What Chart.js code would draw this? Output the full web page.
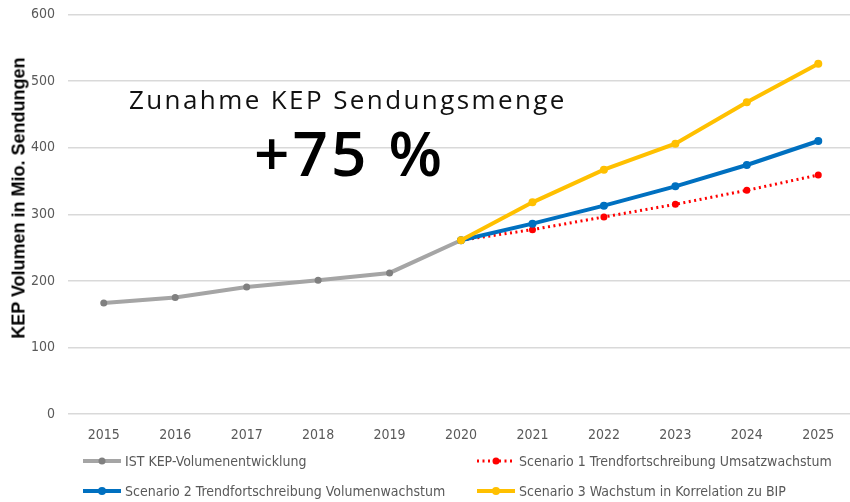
<!DOCTYPE html>
<html>
<head>
<meta charset="utf-8">
<script src="https://cdn.jsdelivr.net/npm/chart.js@4/dist/chart.umd.min.js"></script>
<style>
  body { margin: 0; background: #fff; }
  #wrap { position: relative; width: 850px; height: 502px; overflow: hidden; }
  #chart { position: absolute; left: 0; top: -7px; }
  .ytitle {
    position: absolute; left: 19px; top: 198px;
    transform: translate(-50%, -50%) rotate(-90deg);
    font: bold 18px "Liberation Sans", Arial, sans-serif; white-space: nowrap; color: #000;
  }
  .note1 {
    position: absolute; left: 129px; top: 81px;
    font: 400 26px "Open Sans", sans-serif; letter-spacing: 2.4px; color: #111; white-space: nowrap;
  }
  .note2 {
    position: absolute; left: 254px; top: 110px;
    font: 600 62px "Open Sans", sans-serif; letter-spacing: 3px; color: #000; white-space: nowrap;
  }
  .leg {
    position: absolute; display: flex; align-items: center;
    font: 14px "Liberation Sans Narrow", "DejaVu Sans Condensed", sans-serif; color: #595959; white-space: nowrap;
  }
  .leg svg { margin-right: 3px; }
</style>
</head>
<body>
<div id="wrap">
  <canvas id="chart" width="858" height="509"></canvas>
  <div class="ytitle">KEP Volumen in Mio. Sendungen</div>
  <div class="note1">Zunahme KEP Sendungsmenge</div>
  <div class="note2">+75 %</div>
  <div id="legend"></div>
</div>
<script>
const years = ['2015', '2016', '2017', '2018', '2019', '2020', '2021', '2022', '2023', '2024', '2025'];
const istValues = [167, 175, 191, 201, 212, 261, null, null, null, null, null];
const scen1Values = [null, null, null, null, null, 261, 277, 296, 315, 336, 359];
const scen2Values = [null, null, null, null, null, 261, 286, 313, 342, 374, 410];
const scen3Values = [null, null, null, null, null, 261, 318, 367, 406, 468, 526];
const seriesLabels = [
  'IST KEP-Volumenentwicklung',
  'Scenario 1 Trendfortschreibung Umsatzwachstum',
  'Scenario 2 Trendfortschreibung Volumenwachstum',
  'Scenario 3 Wachstum in Korrelation zu BIP'
];
const yMin = 0, yMax = 600, yStep = 100;

const tickFont = { family: '"Liberation Sans Narrow", "DejaVu Sans Condensed", sans-serif', size: 14 };

const datasets = [
  { label: seriesLabels[0], data: istValues, borderColor: '#a5a5a5', backgroundColor: '#7f7f7f',
    pointBackgroundColor: '#808080', pointBorderColor: '#808080', borderWidth: 4, pointRadius: 3.5, pointBorderWidth: 0, order: 3 },
  { label: seriesLabels[1], data: scen1Values, borderColor: '#ff0000', backgroundColor: '#ff0000',
    pointBackgroundColor: '#ff0000', pointBorderColor: '#ff0000', borderWidth: 3, borderDash: [2, 3.5],
    pointRadius: 3.5, pointBorderWidth: 0, order: 2 },
  { label: seriesLabels[2], data: scen2Values, borderColor: '#0070c0', backgroundColor: '#0070c0',
    pointBackgroundColor: '#0070c0', pointBorderColor: '#0070c0', borderWidth: 4, pointRadius: 4, pointBorderWidth: 0, order: 1 },
  { label: seriesLabels[3], data: scen3Values, borderColor: '#ffc000', backgroundColor: '#ffc000',
    pointBackgroundColor: '#ffc000', pointBorderColor: '#ffc000', borderWidth: 4, pointRadius: 4, pointBorderWidth: 0, order: 0 }
];

new Chart(document.getElementById('chart').getContext('2d'), {
  type: 'line',
  data: { labels: years, datasets: datasets },
  options: {
    responsive: false,
    animation: false,
    layout: { padding: { top: 1, left: 18, right: 1, bottom: 45 } },
    plugins: { legend: { display: false }, tooltip: { enabled: false } },
    scales: {
      x: {
        offset: true,
        grid: { display: false, drawTicks: false },
        border: { display: false },
        ticks: { color: '#595959', font: tickFont, padding: 13, maxRotation: 0 }
      },
      y: {
        min: yMin, max: yMax,
        grid: { color: '#d9d9d9', lineWidth: 1.5, drawTicks: false },
        border: { display: false },
        ticks: { stepSize: yStep, color: '#595959', font: tickFont, padding: 13 }
      }
    }
  }
});

// legend in two columns, built from the datasets
const legendPos = [[82, 461], [476, 461], [82, 491], [476, 491]];
const legend = document.getElementById('legend');
datasets.forEach((ds, i) => {
  const el = document.createElement('div');
  el.className = 'leg';
  el.style.left = legendPos[i][0] + 'px';
  el.style.top = (legendPos[i][1] - 10) + 'px';
  const dash = ds.borderDash ? 'stroke-dasharray="2 3.5"' : '';
  el.innerHTML = '<svg width="40" height="20"><line x1="1" y1="10" x2="39" y2="10" stroke="' + ds.borderColor +
    '" stroke-width="' + ds.borderWidth + '" ' + dash + '/><circle cx="20" cy="10" r="' + ds.pointRadius +
    '" fill="' + ds.pointBackgroundColor + '"/></svg><span>' + ds.label + '</span>';
  legend.appendChild(el);
});
</script>
</body>
</html>
